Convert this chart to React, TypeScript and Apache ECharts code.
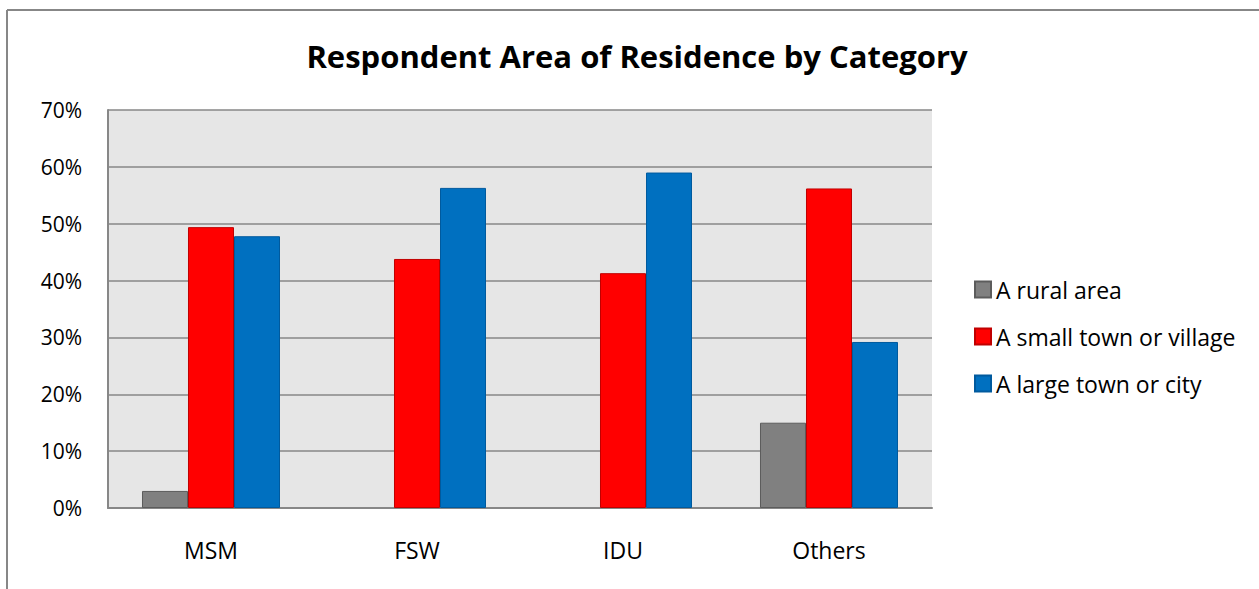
import React, { useEffect, useRef } from "react";
import * as echarts from "echarts";

const categories = ["MSM", "FSW", "IDU", "Others"];
const seriesNames = ["A rural area", "A small town or village", "A large town or city"];
const rural = [3.0, 0, 0, 15.0];
const smallTown = [49.4, 43.8, 41.3, 56.2];
const largeTown = [47.8, 56.3, 59.0, 29.2];
const yTicks = [0, 10, 20, 30, 40, 50, 60, 70];
const titleText = "Respondent Area of Residence by Category";

const FONT = "'Open Sans', 'Noto Sans', sans-serif";

export default function App() {
  const ref = useRef<HTMLDivElement>(null);
  useEffect(() => {
    if (!ref.current) return;
    const chart = echarts.init(ref.current, null, { renderer: "svg" });
    const colors = ["#808080", "#ff0000", "#0070c0"];
    const borders = ["#5c5c5c", "#c00000", "#005a9e"];
    const data = [rural, smallTown, largeTown];
    chart.setOption({
      animation: false,
      backgroundColor: "#ffffff",
      textStyle: { fontFamily: FONT },
      graphic: [
        {
          type: "text",
          x: 637,
          y: 56,
          style: {
            text: titleText,
            align: "center",
            verticalAlign: "middle",
            fontFamily: FONT,
            fontWeight: "bold",
            fontSize: 31,
            fill: "#000000",
          },
        },
        {
          type: "line",
          shape: { x1: 7, y1: 10, x2: 1259, y2: 10 },
          style: { stroke: "#878787", lineWidth: 2 },
        },
        {
          type: "line",
          shape: { x1: 7, y1: 10, x2: 7, y2: 589 },
          style: { stroke: "#878787", lineWidth: 2 },
        },
      ],
      legend: {
        orient: "vertical",
        left: 974,
        top: 278,
        padding: 0,
        itemWidth: 16,
        itemHeight: 16,
        itemGap: 24,
        icon: "rect",
        data: seriesNames,
        textStyle: { fontFamily: FONT, fontSize: 23, color: "#000000" },
      },
      grid: {
        left: 108,
        right: 327,
        top: 110,
        bottom: 81,
        show: true,
        backgroundColor: "#e6e6e6",
        borderWidth: 0,
      },
      xAxis: {
        type: "category",
        data: categories,
        axisLine: { show: true, lineStyle: { color: "#878787", width: 2 } },
        axisTick: { show: false },
        axisLabel: { fontFamily: FONT, fontSize: 23, color: "#000000", margin: 30 },
      },
      yAxis: {
        type: "value",
        min: 0,
        max: 70,
        interval: 10,
        axisLine: { show: true, lineStyle: { color: "#878787", width: 2 } },
        axisTick: { show: false },
        splitLine: { show: true, lineStyle: { color: "#878787", width: 1.5 } },
        axisLabel: {
          fontFamily: FONT,
          fontSize: 21,
          color: "#000000",
          margin: 26,
          formatter: (v: number) => (yTicks.includes(v) ? v + "%" : ""),
        },
      },
      series: seriesNames.map((name, i) => ({
        name,
        type: "bar",
        data: data[i].map((v) => (v === 0 ? "-" : v)),
        barGap: "0%",
        barCategoryGap: "33%",
        itemStyle: { color: colors[i], borderColor: borders[i], borderWidth: 1 },
      })),
    });
    return () => chart.dispose();
  }, []);
  return (
    <div
      ref={ref}
      style={{ position: "fixed", left: 0, top: 0, width: 1259, height: 589 }}
    />
  );
}
